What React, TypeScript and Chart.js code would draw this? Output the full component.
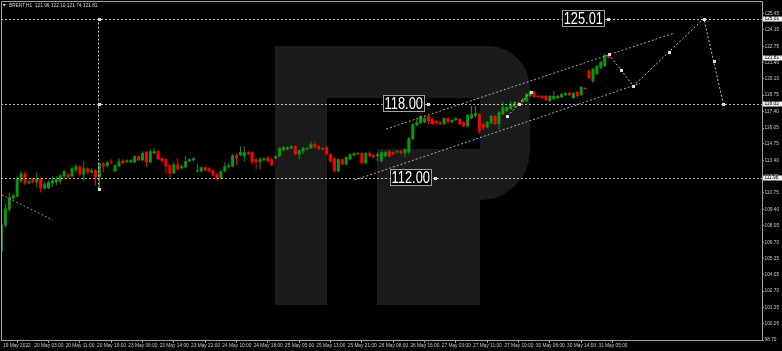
import React, { useEffect, useRef } from "react";
import { Chart, registerables } from "chart.js";

Chart.register(...registerables);

const symbol = "BRENT";
const timeframe = "H1";

// Hourly candles (bar index 0 .. 155)
const opens = [
  105.93, 108.07, 109.38, 110.29, 110.45, 111.69, 112.34, 111.52, 111.93, 111.60,
  111.93, 111.11, 111.11, 111.52, 111.60, 111.69, 112.10, 112.26, 112.10, 112.59,
  112.92, 112.26, 112.75, 112.42, 112.59, 112.01, 113.16, 112.92, 113.33, 112.51,
  112.92, 113.41, 113.25, 113.25, 113.25, 113.74, 113.41, 114.07, 113.25, 113.99,
  114.15, 113.57, 113.49, 113.00, 112.34, 113.08, 112.75, 112.84, 113.33, 113.41,
  112.51, 112.51, 112.84, 112.75, 112.59, 112.26, 111.93, 112.51, 112.84, 112.92,
  113.82, 113.82, 113.74, 114.07, 114.07, 113.49, 113.25, 113.41, 113.66, 113.49,
  113.57, 113.74, 114.23, 114.31, 114.40, 114.56, 113.90, 114.15, 114.31, 114.40,
  114.73, 114.56, 114.31, 114.48, 113.90, 113.57, 112.51, 113.49, 113.08, 113.49,
  113.82, 113.90, 113.99, 113.16, 113.99, 113.82, 113.74, 113.33, 113.74, 114.15,
  114.07, 114.07, 114.15, 113.99, 114.07, 115.14, 116.29, 116.45, 116.53, 117.03,
  116.78, 116.62, 116.53, 116.37, 116.86, 116.53, 116.70, 116.78, 116.53, 116.20,
  116.86, 117.03, 117.19, 116.37, 116.12, 116.45, 117.03, 116.37, 117.19, 117.44,
  117.60, 117.77, 118.18, 118.18, 118.26, 118.67, 119.00, 118.67, 118.67, 118.67,
  118.26, 118.42, 118.51, 118.59, 118.75, 118.92, 118.51, 119.00, 118.75, 119.33,
  120.72, 119.90, 120.48, 120.97, 121.13, 121.96,
];
const highs = [
  108.40, 109.88, 110.78, 110.70, 112.10, 112.51, 112.51, 111.85, 112.01, 112.42,
  112.01, 111.60, 111.77, 112.10, 112.10, 112.26, 112.59, 112.34, 112.84, 113.08,
  113.00, 113.33, 112.84, 112.75, 112.67, 113.25, 113.25, 113.33, 113.49, 113.08,
  113.57, 113.49, 113.49, 113.49, 113.82, 113.82, 114.15, 114.15, 114.31, 114.40,
  114.23, 113.66, 113.57, 113.08, 113.25, 113.57, 113.08, 113.74, 113.57, 113.66,
  113.08, 112.92, 112.92, 112.84, 112.67, 112.34, 112.59, 113.25, 113.16, 113.90,
  113.99, 114.56, 114.56, 114.15, 114.15, 113.57, 113.66, 113.66, 113.74, 113.57,
  113.82, 114.48, 114.56, 114.56, 114.64, 114.64, 114.31, 114.56, 114.48, 114.97,
  114.89, 114.64, 114.48, 114.56, 113.99, 113.66, 113.57, 113.57, 113.74, 113.99,
  114.07, 114.07, 114.07, 114.07, 114.15, 113.90, 114.07, 114.15, 114.15, 114.23,
  114.15, 114.23, 114.23, 114.40, 115.30, 116.45, 116.78, 117.11, 116.94, 117.11,
  116.86, 116.70, 116.62, 116.94, 116.94, 116.78, 116.94, 116.86, 116.62, 117.19,
  117.85, 117.85, 117.27, 116.45, 116.62, 117.11, 117.11, 117.44, 118.18, 117.85,
  118.26, 118.26, 118.26, 118.51, 118.92, 119.16, 119.08, 118.75, 118.75, 118.75,
  118.75, 119.08, 118.75, 118.92, 119.00, 119.00, 119.00, 119.08, 119.49, 119.41,
  120.89, 120.97, 121.22, 121.55, 122.12, 122.10,
];
const lows = [
  105.69, 107.91, 109.22, 110.12, 110.37, 111.60, 111.36, 111.44, 111.52, 111.19,
  110.78, 111.03, 111.03, 111.27, 111.36, 111.44, 111.85, 111.93, 112.01, 112.42,
  112.10, 111.69, 112.26, 112.34, 111.36, 111.19, 112.42, 112.84, 113.08, 112.42,
  112.84, 113.08, 113.16, 113.16, 113.16, 113.33, 113.33, 112.84, 113.16, 113.90,
  113.41, 113.25, 112.26, 112.01, 112.26, 112.59, 112.67, 112.75, 113.25, 113.33,
  112.42, 112.42, 112.51, 112.42, 112.10, 111.69, 111.85, 112.42, 112.75, 112.84,
  113.00, 113.74, 113.33, 113.82, 113.08, 112.67, 112.67, 113.33, 113.25, 112.92,
  113.49, 113.66, 114.15, 114.23, 114.31, 113.82, 113.49, 113.90, 114.23, 114.31,
  114.40, 114.23, 114.23, 113.82, 113.25, 112.42, 112.42, 113.00, 113.00, 113.41,
  113.74, 113.82, 113.08, 113.08, 113.66, 113.57, 113.33, 113.25, 113.66, 113.66,
  113.82, 113.99, 113.90, 113.66, 113.90, 115.05, 116.20, 116.37, 116.45, 116.37,
  116.29, 116.37, 116.29, 116.29, 116.45, 116.45, 116.62, 116.29, 116.12, 116.12,
  116.78, 116.94, 115.55, 115.88, 116.04, 116.37, 116.29, 115.96, 117.11, 117.35,
  117.52, 117.68, 118.01, 118.09, 118.18, 118.59, 118.51, 118.51, 118.42, 118.26,
  118.18, 118.34, 118.42, 118.51, 118.67, 118.67, 118.42, 118.51, 118.67, 119.16,
  120.07, 119.74, 120.40, 120.89, 121.05, 121.74,
];
const closes = [
  108.15, 109.47, 110.37, 110.54, 111.93, 112.34, 111.52, 111.69, 111.60, 111.93,
  111.11, 111.44, 111.60, 111.77, 111.85, 112.18, 112.51, 112.01, 112.75, 112.92,
  112.26, 112.75, 112.42, 112.59, 112.01, 113.16, 112.92, 113.25, 113.25, 113.00,
  113.33, 113.16, 113.41, 113.41, 113.74, 113.41, 113.99, 113.25, 114.15, 114.15,
  113.49, 113.33, 112.92, 112.34, 113.08, 112.67, 112.92, 113.33, 113.49, 113.57,
  112.59, 112.84, 112.59, 112.51, 112.18, 111.85, 112.51, 112.92, 113.00, 113.82,
  113.57, 114.07, 114.07, 113.90, 113.25, 113.25, 113.49, 113.57, 113.33, 113.00,
  113.74, 114.40, 114.48, 114.48, 114.56, 113.90, 114.23, 114.40, 114.40, 114.73,
  114.48, 114.31, 114.40, 113.90, 113.33, 112.51, 113.49, 113.08, 113.66, 113.90,
  113.99, 113.99, 113.16, 113.99, 113.74, 113.66, 113.90, 114.07, 114.07, 113.74,
  113.90, 114.15, 113.99, 114.31, 115.22, 116.37, 116.53, 117.03, 116.86, 116.62,
  116.37, 116.45, 116.37, 116.86, 116.53, 116.70, 116.86, 116.37, 116.20, 117.11,
  117.19, 117.27, 115.79, 116.04, 116.53, 117.03, 116.37, 117.35, 117.77, 117.77,
  118.01, 118.18, 118.09, 118.42, 118.83, 119.08, 118.59, 118.59, 118.51, 118.34,
  118.67, 118.67, 118.67, 118.83, 118.92, 118.75, 118.92, 118.67, 119.41, 119.24,
  120.15, 120.89, 121.13, 121.46, 122.04, 121.81,
];

// Time axis labels (every 8 bars)
const xTickBars = [0, 8, 16, 24, 32, 40, 48, 56, 64, 72, 80, 88, 96, 104, 112, 120, 128, 136, 144, 152];
const xTickLabels = [
  "19 May 2022", "20 May 03:00", "20 May 11:00", "20 May 19:00", "23 May 06:00",
  "23 May 14:00", "23 May 22:00", "24 May 10:00", "24 May 18:00", "25 May 05:00",
  "25 May 13:00", "25 May 21:00", "26 May 08:00", "26 May 16:00", "27 May 03:00",
  "27 May 11:00", "27 May 19:00", "30 May 06:00", "30 May 14:00", "31 May 05:00",
];

// Price axis labels
const yTickValues = [
  98.70, 100.05, 101.35, 102.70, 104.05, 105.35, 106.70, 108.05, 109.40, 110.75,
  112.05, 113.40, 114.75, 116.05, 117.40, 118.75, 120.10, 121.40, 122.75, 124.10, 125.45,
];

// Horizontal levels
const levelPrices = [125.01, 118.02, 111.98];

// Text objects
const labelTexts = ["125.01", "118.00", "112.00"];
const labelBars = [154.6, 108.6, 110.4];
const labelPrices = [125.01, 118.02, 111.98];

// Drawn lines: [bar index, price]
const verticalLine = [[25, 125.01], [25, 111.05]];
const leftTrend = [[0.1, 110.57], [13.1, 108.52]];
const upperChannel = [[98.2, 115.97], [171.4, 123.79]];
const lowerChannel = [[90.25, 111.8], [163.0, 119.7]];
const waveLine = [[129.1, 117.01], [135.3, 119.03]];
const projection = [[155, 122.1], [161.3, 119.49], [179.3, 125.01], [184.3, 118.02]];

const X_MIN = -0.13;
const X_MAX = 194.15;
const Y_MIN = 98.7;
const Y_MAX = 126.45;

const GREEN = "#0a9a0a";
const RED = "#ff0000";
const AXIS = "#a0a0a0";
const TEXT = "#c8c8c8";
const FONT = "'Liberation Sans', Arial, sans-serif";

function toPx(chart: any, b: number, p: number): [number, number] {
  return [chart.scales.x.getPixelForValue(b), chart.scales.y.getPixelForValue(p)];
}

function drawPolyline(ctx: CanvasRenderingContext2D, chart: any, pts: number[][], color: string, dash: number[]) {
  ctx.save();
  ctx.strokeStyle = color;
  ctx.lineWidth = 1;
  ctx.setLineDash(dash);
  ctx.beginPath();
  pts.forEach((pt, i) => {
    const [x, y] = toPx(chart, pt[0], pt[1]);
    if (i === 0) ctx.moveTo(x, y);
    else ctx.lineTo(x, y);
  });
  ctx.stroke();
  ctx.restore();
}

function marker(ctx: CanvasRenderingContext2D, x: number, y: number) {
  ctx.save();
  ctx.fillStyle = "#dcdcdc";
  ctx.fillRect(Math.round(x) - 1, Math.round(y) - 1, 3, 3);
  ctx.restore();
}

function markersWithMid(ctx: CanvasRenderingContext2D, chart: any, pts: number[][]) {
  const px = pts.map((p) => toPx(chart, p[0], p[1]));
  px.forEach((p, i) => {
    marker(ctx, p[0], p[1]);
    if (i > 0) {
      const q = px[i - 1];
      marker(ctx, (p[0] + q[0]) / 2, (p[1] + q[1]) / 2);
    }
  });
}

const overlayPlugin = {
  id: "mtOverlay",
  beforeDraw(chart: any) {
    const ctx: CanvasRenderingContext2D = chart.ctx;
    ctx.save();
    ctx.fillStyle = "#000000";
    ctx.fillRect(0, 0, chart.width, chart.height);
    // watermark logo
    ctx.fillStyle = "#1b1b1b";
    ctx.beginPath();
    ctx.moveTo(275, 46);
    ctx.lineTo(488, 46);
    ctx.arcTo(530, 46, 530, 88, 42);
    ctx.lineTo(530, 150);
    ctx.arcTo(530, 200, 480, 200, 50);
    ctx.lineTo(480, 305);
    ctx.lineTo(377, 305);
    ctx.lineTo(377, 149);
    ctx.lineTo(480, 149);
    ctx.lineTo(480, 98);
    ctx.lineTo(327, 98);
    ctx.lineTo(327, 305);
    ctx.lineTo(275, 305);
    ctx.closePath();
    ctx.fill();
    ctx.restore();
  },
  afterDatasetsDraw(chart: any) {
    const ctx: CanvasRenderingContext2D = chart.ctx;
    const area = chart.chartArea;
    ctx.save();
    ctx.beginPath();
    ctx.rect(area.left, area.top, area.right - area.left, area.bottom - area.top);
    ctx.clip();

    // horizontal levels
    ctx.strokeStyle = "#bdbdbd";
    ctx.lineWidth = 1;
    ctx.setLineDash([2, 2]);
    levelPrices.forEach((p) => {
      const y = Math.round(chart.scales.y.getPixelForValue(p)) + 0.5;
      ctx.beginPath();
      ctx.moveTo(area.left, y);
      ctx.lineTo(area.right, y);
      ctx.stroke();
    });
    ctx.setLineDash([]);

    // vertical line
    {
      const [x1, y1] = toPx(chart, verticalLine[0][0], verticalLine[0][1]);
      const [, y2] = toPx(chart, verticalLine[1][0], verticalLine[1][1]);
      ctx.save();
      ctx.strokeStyle = "#bdbdbd";
      ctx.setLineDash([2, 2]);
      ctx.beginPath();
      const xx = Math.round(x1) - 0.5;
      ctx.moveTo(xx, y1);
      ctx.lineTo(xx, y2);
      ctx.stroke();
      ctx.restore();
      markersWithMid(ctx, chart, verticalLine);
    }

    drawPolyline(ctx, chart, leftTrend, "#8c8c8c", [2, 2]);
    drawPolyline(ctx, chart, upperChannel, "#a8a8a8", [2, 2]);
    drawPolyline(ctx, chart, lowerChannel, "#a8a8a8", [2, 2]);
    drawPolyline(ctx, chart, waveLine, "#b8b8b8", [2, 2]);
    markersWithMid(ctx, chart, waveLine);
    drawPolyline(ctx, chart, projection, "#c0c0c0", [2, 2]);
    markersWithMid(ctx, chart, projection);

    // text objects
    labelTexts.forEach((t, i) => {
      const [xr, yc] = toPx(chart, labelBars[i], labelPrices[i]);
      ctx.save();
      ctx.font = `16.5px ${FONT}`;
      const sx = 0.78;
      const w = ctx.measureText(t).width * sx + 4;
      const h = 17;
      const right = Math.round(xr) - 2;
      const left = right - w;
      const top = Math.round(yc - h / 2);
      ctx.fillStyle = "#000000";
      ctx.fillRect(left, top, w, h);
      ctx.strokeStyle = "#a0a0a0";
      ctx.lineWidth = 1;
      ctx.strokeRect(Math.round(left) + 0.5, top + 0.5, Math.round(w) - 1, h - 1);
      ctx.translate((left + right) / 2, top + h / 2 + 0.5);
      ctx.scale(sx, 1);
      ctx.fillStyle = "#ffffff";
      ctx.textAlign = "center";
      ctx.textBaseline = "middle";
      ctx.fillText(t, 0, 0);
      ctx.restore();
      marker(ctx, xr + 1, yc);
    });
    ctx.restore();
  },
  afterDraw(chart: any) {
    const ctx: CanvasRenderingContext2D = chart.ctx;
    const area = chart.chartArea;
    ctx.save();
    // frame (left and top)
    ctx.strokeStyle = AXIS;
    ctx.lineWidth = 1;
    ctx.beginPath();
    ctx.moveTo(area.left + 0.5, area.bottom);
    ctx.lineTo(area.left + 0.5, area.top + 0.5);
    ctx.lineTo(area.right, area.top + 0.5);
    ctx.stroke();

    // header
    ctx.fillStyle = "#d8d8d8";
    ctx.beginPath();
    ctx.moveTo(2.5, 4);
    ctx.lineTo(6, 4);
    ctx.lineTo(4.25, 6.5);
    ctx.closePath();
    ctx.fill();
    const n = closes.length - 1;
    const header = `${symbol},${timeframe}  ${opens[n].toFixed(2)} ${highs[n].toFixed(2)} ${lows[n].toFixed(2)} ${closes[n].toFixed(2)}`;
    ctx.font = `4.8px ${FONT}`;
    ctx.textBaseline = "middle";
    ctx.textAlign = "left";
    ctx.fillText(header, 9, 5.5);

    // highlighted price boxes on the axis
    const boxes = [...levelPrices, closes[n]];
    boxes.forEach((p) => {
      const y = chart.scales.y.getPixelForValue(p);
      ctx.fillStyle = "#eeeeee";
      ctx.fillRect(area.right + 1, Math.round(y) - 2.5, chart.width - area.right - 1, 5);
      ctx.fillStyle = "#000000";
      ctx.font = `4.8px ${FONT}`;
      ctx.textBaseline = "middle";
      ctx.fillText(p.toFixed(2), area.right + 2.5, Math.round(y));
    });
    ctx.restore();
  },
};

export default function App() {
  const canvasRef = useRef<HTMLCanvasElement | null>(null);

  useEffect(() => {
    document.body.style.margin = "0";
    document.body.style.background = "#000";
    const canvas = canvasRef.current;
    if (!canvas) return;
    const colors = opens.map((o, i) => (closes[i] >= o ? GREEN : RED));
    const wickData = opens.map((o, i) => ({ x: i, y: [lows[i], highs[i]] }));
    const bodyData = opens.map((o, i) => ({ x: i, y: [o, closes[i]] }));

    const chart = new Chart(canvas, {
      type: "bar",
      data: {
        datasets: [
          {
            data: wickData as any,
            backgroundColor: colors,
            borderWidth: 0,
            barThickness: 1,
            grouped: false,
            inflateAmount: 0,
          } as any,
          {
            data: bodyData as any,
            backgroundColor: colors,
            borderWidth: 0,
            barThickness: 3,
            minBarLength: 1,
            grouped: false,
            inflateAmount: 0,
          } as any,
        ],
      },
      options: {
        animation: false,
        responsive: false,
        devicePixelRatio: 1,
        events: [],
        layout: { padding: { left: 1, top: 1, right: 0, bottom: 0 } },
        plugins: { legend: { display: false }, tooltip: { enabled: false } },
        scales: {
          x: {
            type: "linear",
            position: "bottom",
            min: X_MIN,
            max: X_MAX,
            offset: false,
            afterBuildTicks: (scale: any) => {
              scale.ticks = xTickBars.map((v) => ({ value: v }));
            },
            afterFit: (scale: any) => {
              scale.height = 11;
              scale.paddingLeft = 0;
              scale.paddingRight = 0;
            },
            ticks: {
              autoSkip: false,
              maxRotation: 0,
              minRotation: 0,
              align: "start",
              labelOffset: 1.5,
              padding: 0,
              color: TEXT,
              font: { size: 4.8, family: FONT },
              callback: (v: any) => {
                const k = xTickBars.indexOf(Number(v));
                return k >= 0 ? xTickLabels[k] : "";
              },
            },
            grid: { display: true, drawOnChartArea: false, drawTicks: true, tickLength: 3, color: AXIS },
            border: { display: true, color: AXIS },
          },
          y: {
            type: "linear",
            position: "right",
            min: Y_MIN,
            max: Y_MAX,
            afterBuildTicks: (scale: any) => {
              scale.ticks = yTickValues.map((v) => ({ value: v }));
            },
            afterFit: (scale: any) => {
              scale.width = 20;
              scale.paddingTop = 0;
              scale.paddingBottom = 0;
            },
            ticks: {
              autoSkip: false,
              padding: 0.5,
              color: TEXT,
              font: { size: 4.8, family: FONT },
              callback: (v: any) => Number(v).toFixed(2),
            },
            grid: { display: true, drawOnChartArea: false, drawTicks: true, tickLength: 2, color: AXIS },
            border: { display: true, color: AXIS },
          },
        },
      } as any,
      plugins: [overlayPlugin as any],
    });
    return () => chart.destroy();
  }, []);

  return (
    <div style={{ position: "fixed", left: 0, top: 0, width: 782, height: 351, background: "#000" }}>
      <canvas ref={canvasRef} width={782} height={351} style={{ display: "block", width: 782, height: 351 }} />
    </div>
  );
}
